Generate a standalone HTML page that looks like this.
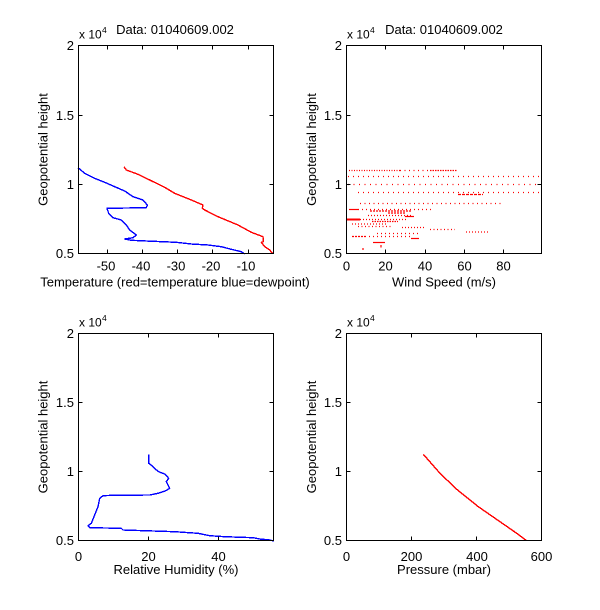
<!DOCTYPE html>
<html><head><meta charset="utf-8"><style>
html,body{margin:0;padding:0;background:#fff;}
svg{display:block;}
text{font-family:"Liberation Sans",Arial,sans-serif;fill:#000;}
</style></head><body>
<svg width="600" height="610" viewBox="0 0 600 610" xmlns="http://www.w3.org/2000/svg">
<rect width="600" height="610" fill="#fff"/>

<!-- ===== Top-left: Temperature ===== -->
<g fill="none" stroke-linejoin="round" shape-rendering="crispEdges">
<polyline stroke="#ff0000" stroke-width="1.4" points="124,166.7 126.3,170 138,174.3 149.7,180 164.7,187.3 174.7,193.3 191.3,200 203,205 202.3,208.3 204.7,210 218,216.7 238,225 251.3,232.3 263,236.7 263.3,241.7 261.3,242.3 264.7,246.7 269.7,250 273,254"/>
<polyline stroke="#0000ff" stroke-width="1.4" points="78,167.7 84.7,173.3 94.7,178.3 104.7,182.3 114.7,186.7 124.7,191 133,196.7 143,200 147.3,205 146.3,207.7 107,208.3 108.7,213.3 113,217.7 121.3,220 126.3,225 129.7,230 136.3,235 133,237.7 124.7,239 131.3,240.3 146.3,241 176.3,242.3 191.3,244 208,245 221.3,246.7 231.3,249.3 241.3,251.7 244.7,254"/>
</g>
<g stroke="#000" stroke-width="1" fill="none" shape-rendering="crispEdges">
<rect x="78.5" y="45.5" width="195" height="208"/>
<path d="M107.5 253.5v-4M142.5 253.5v-4M177.5 253.5v-4M212.5 253.5v-4M248.5 253.5v-4
M107.5 45.5v4M142.5 45.5v4M177.5 45.5v4M212.5 45.5v4M248.5 45.5v4
M78.5 115.5h4M78.5 184.5h4M273.5 115.5h-4M273.5 184.5h-4"/>
</g>
<g font-size="13">
<text x="74" y="50" text-anchor="end">2</text>
<text x="74" y="120" text-anchor="end">1.5</text>
<text x="74" y="189" text-anchor="end">1</text>
<text x="74" y="258" text-anchor="end">0.5</text>
<text x="106" y="270.5" text-anchor="middle">-50</text>
<text x="141" y="270.5" text-anchor="middle">-40</text>
<text x="176" y="270.5" text-anchor="middle">-30</text>
<text x="211" y="270.5" text-anchor="middle">-20</text>
<text x="246" y="270.5" text-anchor="middle">-10</text>
<text x="175" y="286.5" text-anchor="middle">Temperature (red=temperature blue=dewpoint)</text>
<text x="175" y="34" text-anchor="middle">Data: 01040609.002</text>
<text transform="translate(47.5,149.5) rotate(-90)" text-anchor="middle">Geopotential height</text>
</g>
<text x="79" y="38.5" font-size="12">x 10</text>
<text x="102" y="33" font-size="8.5">4</text>

<!-- ===== Top-right: Wind Speed ===== -->
<g stroke="#ff0000" fill="none" stroke-width="1.2">
<line x1="349" y1="170.5" x2="400" y2="170.5" stroke-dasharray="1 1.5"/>
<line x1="400" y1="170.5" x2="430" y2="170.5" stroke-dasharray="1 3.5"/>
<line x1="430" y1="170.5" x2="457" y2="170.5" stroke-dasharray="1.5 1"/>
<line x1="348" y1="176.5" x2="542" y2="176.5" stroke-dasharray="1 4"/>
<line x1="348" y1="184.5" x2="540" y2="184.5" stroke-dasharray="1 4.5"/>
<line x1="358" y1="192.5" x2="540" y2="192.5" stroke-dasharray="1 4"/>
<line x1="458" y1="194.5" x2="483" y2="194.5" stroke-dasharray="3 1"/>
<line x1="360" y1="203.5" x2="501" y2="203.5" stroke-dasharray="1 3.5"/>
<line x1="349" y1="209.5" x2="358" y2="209.5"/>
<line x1="358" y1="209.5" x2="433" y2="209.5" stroke-dasharray="1 3"/>
<line x1="370" y1="211" x2="412" y2="211" stroke-dasharray="2 1"/>
<line x1="388" y1="213" x2="405" y2="213" stroke-dasharray="2 1"/>
<line x1="368" y1="215.5" x2="413" y2="215.5" stroke-dasharray="1 2"/>
<line x1="405" y1="216.5" x2="414" y2="216.5"/>
<line x1="346" y1="219.5" x2="360" y2="219.5" stroke-width="2"/>
<line x1="360" y1="219.5" x2="407" y2="219.5" stroke-dasharray="1 2"/>
<line x1="372" y1="221.5" x2="398" y2="221.5" stroke-dasharray="1.5 1"/>
<line x1="352" y1="224" x2="387" y2="224" stroke-dasharray="1 2"/>
<line x1="358" y1="226.5" x2="393" y2="226.5" stroke-dasharray="1 2.5"/>
<line x1="402" y1="227.5" x2="425" y2="227.5" stroke-dasharray="1 2"/>
<line x1="430" y1="229.5" x2="455" y2="229.5" stroke-dasharray="1 2.5"/>
<line x1="466" y1="232" x2="488" y2="232" stroke-dasharray="1 2"/>
<line x1="377" y1="233.5" x2="420" y2="233.5" stroke-dasharray="1 3"/>
<line x1="352" y1="236.5" x2="365" y2="236.5" stroke-dasharray="2 1"/>
<line x1="365" y1="236.5" x2="410" y2="236.5" stroke-dasharray="1 3"/>
<line x1="411" y1="238.5" x2="419" y2="238.5"/>
<line x1="373" y1="242.5" x2="385" y2="242.5"/>
<line x1="381" y1="245" x2="381" y2="247.5"/>
<line x1="363" y1="248" x2="363" y2="250"/>
</g>
<g stroke="#000" stroke-width="1" fill="none" shape-rendering="crispEdges">
<rect x="346.5" y="45.5" width="195" height="208"/>
<path d="M385.5 253.5v-4M425.5 253.5v-4M464.5 253.5v-4M503.5 253.5v-4
M385.5 45.5v4M425.5 45.5v4M464.5 45.5v4M503.5 45.5v4
M346.5 115.5h4M346.5 184.5h4M541.5 115.5h-4M541.5 184.5h-4"/>
</g>
<g font-size="13">
<text x="342" y="50" text-anchor="end">2</text>
<text x="342" y="120" text-anchor="end">1.5</text>
<text x="342" y="189" text-anchor="end">1</text>
<text x="342" y="258" text-anchor="end">0.5</text>
<text x="346.5" y="270.5" text-anchor="middle">0</text>
<text x="385.5" y="270.5" text-anchor="middle">20</text>
<text x="425" y="270.5" text-anchor="middle">40</text>
<text x="464.5" y="270.5" text-anchor="middle">60</text>
<text x="503.5" y="270.5" text-anchor="middle">80</text>
<text x="444" y="286.5" text-anchor="middle">Wind Speed (m/s)</text>
<text x="444" y="34" text-anchor="middle">Data: 01040609.002</text>
<text transform="translate(316,149.5) rotate(-90)" text-anchor="middle">Geopotential height</text>
</g>
<text x="347" y="38.5" font-size="12">x 10</text>
<text x="370" y="33" font-size="8.5">4</text>

<!-- ===== Bottom-left: Relative Humidity ===== -->
<polyline fill="none" stroke="#0000ff" stroke-width="1.4" stroke-linejoin="round" shape-rendering="crispEdges" points="148.7,454.3 148.7,463.3 152,465.7 155.3,469 158.7,471.7 165.3,474.3 168.7,478.3 166.3,481.7 169.7,488.3 165.3,491 158,493.3 149.7,495 113,495.3 103,495.7 99.7,498.3 98,506.7 94.7,515 91.3,523.3 88,525.7 89.7,527.7 121.3,528.3 123,530 174.7,531.7 198,533.3 209.7,535.7 224.7,536.7 253,537.7 259.7,539 269.7,540 274,541"/>
<g stroke="#000" stroke-width="1" fill="none" shape-rendering="crispEdges">
<rect x="78.5" y="333.5" width="195" height="207"/>
<path d="M148.5 540.5v-4M218.5 540.5v-4
M148.5 333.5v4M218.5 333.5v4
M78.5 402.5h4M78.5 471.5h4M273.5 402.5h-4M273.5 471.5h-4"/>
</g>
<g font-size="13">
<text x="74" y="338" text-anchor="end">2</text>
<text x="74" y="407" text-anchor="end">1.5</text>
<text x="74" y="476" text-anchor="end">1</text>
<text x="74" y="545" text-anchor="end">0.5</text>
<text x="78.5" y="561" text-anchor="middle">0</text>
<text x="148.5" y="561" text-anchor="middle">20</text>
<text x="218.5" y="561" text-anchor="middle">40</text>
<text x="176" y="574" text-anchor="middle">Relative Humidity (%)</text>
<text transform="translate(47.5,437) rotate(-90)" text-anchor="middle">Geopotential height</text>
</g>
<text x="79" y="326.7" font-size="12">x 10</text>
<text x="102" y="321.2" font-size="8.5">4</text>

<!-- ===== Bottom-right: Pressure ===== -->
<polyline fill="none" stroke="#ff0000" stroke-width="1.4" stroke-linejoin="round" shape-rendering="crispEdges" points="423.3,454.3 440,473.3 456.7,489.3 478.3,506.7 500,521.7 516.7,533.3 526.7,540.7"/>
<g stroke="#000" stroke-width="1" fill="none" shape-rendering="crispEdges">
<rect x="346.5" y="333.5" width="195" height="207"/>
<path d="M411.5 540.5v-4M476.5 540.5v-4
M411.5 333.5v4M476.5 333.5v4
M346.5 402.5h4M346.5 471.5h4M541.5 402.5h-4M541.5 471.5h-4"/>
</g>
<g font-size="13">
<text x="342" y="338" text-anchor="end">2</text>
<text x="342" y="407" text-anchor="end">1.5</text>
<text x="342" y="476" text-anchor="end">1</text>
<text x="342" y="545" text-anchor="end">0.5</text>
<text x="346.5" y="561" text-anchor="middle">0</text>
<text x="411.5" y="561" text-anchor="middle">200</text>
<text x="477" y="561" text-anchor="middle">400</text>
<text x="541.5" y="561" text-anchor="middle">600</text>
<text x="444" y="574" text-anchor="middle">Pressure (mbar)</text>
<text transform="translate(316,437) rotate(-90)" text-anchor="middle">Geopotential height</text>
</g>
<text x="347" y="326.7" font-size="12">x 10</text>
<text x="370" y="321.2" font-size="8.5">4</text>
</svg>
</body></html>
